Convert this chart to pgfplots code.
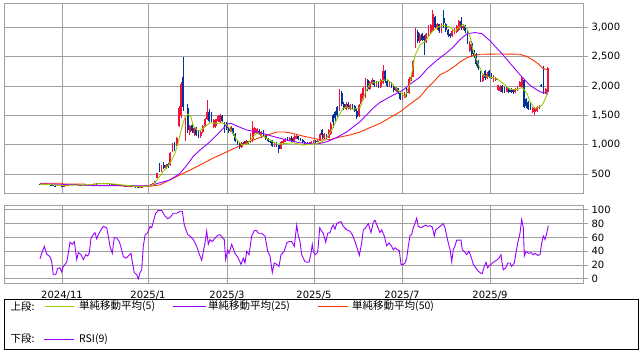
\documentclass[border=0pt]{standalone}
\usepackage{fontspec}
\setmainfont{DejaVu Sans}
\newfontfamily\jp{Noto Sans CJK JP}
\usepackage{pgfplots}
\usepackage{pgfplotstable}
\pgfplotsset{compat=1.18}
\definecolor{upcol}{RGB}{240,20,60}
\definecolor{dncol}{RGB}{0,51,153}
\definecolor{mafive}{RGB}{153,204,0}
\definecolor{matwf}{RGB}{153,0,255}
\definecolor{mafif}{RGB}{255,51,0}
\definecolor{gridc}{RGB}{160,160,160}

\pgfplotstableread{
x O H L C
42.2 322 335 318 332
44.3 332 345 328 340
57.4 298 306 295 304
63.9 297 306 295 303
66.0 303 310 300 308
68.2 308 318 306 316
70.4 316 326 314 324
74.7 320 328 318 325
79.1 310 318 308 316
85.6 309 316 308 314
89.9 312 326 311 324
92.1 324 332 322 330
94.3 330 338 328 336
98.6 333 342 332 340
100.8 340 348 338 345
113.8 318 330 316 328
126.8 293 298 291 296
129.0 296 300 292 298
139.8 262 272 258 270
142.0 270 278 266 275
144.2 275 296 274 293
146.3 293 310 291 307
148.5 307 318 304 315
150.7 315 335 312 332
152.8 332 352 328 348
157.2 430 525 425 510
161.5 560 660 540 640
165.9 605 665 585 650
170.2 650 870 640 850
172.4 880 1020 870 1000
176.7 1000 1130 980 1110
178.9 1320 1660 1300 1630
181.1 1480 2060 1460 2040
185.4 1100 1450 1070 1400
189.7 1220 1340 1160 1320
194.1 1200 1300 1150 1280
200.6 1140 1230 1120 1220
202.8 1220 1340 1200 1320
204.9 1320 1460 1300 1440
207.1 1440 1760 1420 1560
213.6 1300 1440 1280 1420
215.8 1310 1440 1290 1430
217.9 1400 1500 1380 1480
220.1 1390 1520 1370 1500
231.0 1220 1320 1210 1300
241.8 960 1050 950 1030
246.2 1000 1080 990 1060
250.5 1030 1200 1020 1180
252.7 1100 1400 1050 1280
254.8 1200 1300 1180 1280
257.0 1190 1290 1180 1270
261.3 1150 1240 1120 1220
274.4 970 1050 960 1030
280.9 930 1060 920 1040
283.0 1030 1090 1010 1070
285.2 1050 1120 1040 1100
289.6 1080 1130 1060 1110
293.9 1060 1160 1050 1130
296.1 1100 1160 1090 1150
309.1 1000 1050 995 1025
311.3 1020 1060 1010 1050
313.4 1040 1080 1030 1070
317.8 1050 1080 1040 1065
319.9 1070 1200 1060 1180
324.3 1120 1200 1090 1180
328.6 1120 1260 1110 1250
330.8 1180 1380 1170 1360
339.5 1590 1940 1580 1900
346.0 1600 1720 1590 1700
350.3 1610 1700 1590 1680
359.0 1480 1700 1470 1680
361.2 1690 1880 1680 1860
363.3 1780 1990 1760 1960
365.5 1820 2140 1800 2120
369.8 1950 2080 1930 2060
372.0 2040 2130 2020 2100
376.4 2000 2080 1980 2060
380.7 1980 2120 1970 2100
382.9 2050 2360 2040 2250
389.4 1990 2080 1980 2050
395.9 1920 1980 1900 1960
402.4 1780 1880 1760 1800
404.6 1800 1900 1790 1860
408.9 1880 2150 1870 2120
411.1 2100 2200 2090 2160
413.2 2160 2440 2150 2420
415.4 2660 2990 2640 2960
419.8 2760 2900 2740 2870
426.3 2750 2900 2730 2880
428.4 2860 3040 2840 3020
430.6 2900 3060 2880 3040
432.8 2960 3290 2940 3230
437.1 2980 3080 2960 3060
441.5 2920 3080 2900 3060
452.3 2850 2960 2830 2940
454.5 2900 2990 2880 2960
456.6 2920 3040 2910 3020
458.8 2950 3120 2940 3100
463.2 2980 3060 2960 3030
469.7 2600 2760 2580 2720
482.7 2090 2220 2070 2200
487.0 2130 2240 2120 2200
493.5 2080 2180 2060 2170
495.7 2100 2150 2080 2140
497.9 1930 2020 1910 2010
500.0 1920 2010 1900 1990
506.6 1900 1980 1890 1960
515.2 1890 1960 1880 1950
517.4 1920 2000 1910 1990
519.6 1990 2080 1980 2060
521.7 1990 2150 1980 2130
532.6 1560 1650 1540 1630
534.8 1550 1640 1500 1620
536.9 1570 1660 1560 1640
539.1 1620 1670 1610 1650
545.6 1880 1960 1860 1950
547.8 1900 2320 1840 2300
}\upT

\pgfplotstableread{
x O H L C
40.0 330 340 318 322
46.5 340 342 322 326
48.7 326 330 316 320
50.9 320 324 308 312
53.0 312 314 296 300
55.2 300 304 294 298
59.5 304 306 298 302
61.7 302 304 294 297
72.6 324 326 316 320
76.9 325 326 308 310
81.2 316 318 310 313
83.4 313 316 306 309
87.7 314 316 310 312
96.4 336 338 330 333
102.9 345 348 340 344
105.1 344 346 338 340
107.3 340 342 330 333
109.4 333 334 322 325
111.6 325 326 315 318
116.0 328 330 320 324
118.1 324 325 312 315
120.3 315 316 304 306
122.5 306 308 296 298
124.6 298 300 290 293
131.1 298 299 288 290
133.3 290 291 278 281
135.5 281 283 270 273
137.7 273 275 258 262
155.0 372 380 345 355
159.4 640 680 530 560
163.7 650 700 590 605
168.0 665 690 600 620
174.5 1010 1040 900 940
183.2 2150 2490 1580 1640
187.6 1620 1700 1200 1250
191.9 1330 1360 1200 1230
196.2 1280 1300 1140 1170
198.4 1200 1230 1120 1140
209.3 1560 1600 1380 1400
211.4 1500 1560 1380 1420
222.3 1480 1500 1380 1400
224.5 1370 1380 1200 1220
226.6 1360 1380 1250 1280
228.8 1290 1300 1200 1230
233.1 1280 1290 1150 1180
235.3 1180 1200 1040 1060
237.5 1060 1080 990 1010
239.6 1020 1040 920 960
244.0 1040 1060 990 1000
248.3 1060 1070 1010 1030
259.2 1240 1260 1160 1200
263.5 1230 1250 1130 1160
265.7 1160 1180 1080 1100
267.9 1100 1120 1040 1060
270.0 1070 1080 1020 1040
272.2 1060 1080 960 980
276.5 1030 1040 960 980
278.7 990 1000 860 920
287.4 1110 1130 1060 1090
291.7 1120 1140 1050 1070
298.2 1140 1150 1080 1100
300.4 1100 1110 1060 1080
302.6 1080 1090 1020 1040
304.7 1040 1060 1000 1020
306.9 1030 1040 990 1010
315.6 1070 1080 1030 1050
322.1 1250 1260 1100 1160
326.4 1170 1180 1090 1110
333.0 1500 1520 1290 1380
335.1 1560 1580 1400 1450
337.3 1640 1660 1470 1500
341.6 1880 1920 1660 1690
343.8 1700 1720 1590 1620
348.1 1700 1720 1600 1620
352.5 1690 1700 1600 1630
354.7 1660 1680 1560 1580
356.8 1580 1600 1440 1470
367.7 2100 2120 1920 1950
374.2 2100 2110 1980 2010
378.5 2060 2070 1970 1990
385.0 2250 2280 2050 2080
387.2 2080 2100 1980 2000
391.5 2050 2060 1970 1990
393.7 2000 2020 1900 1930
398.1 1960 1970 1870 1890
400.2 1880 1890 1760 1780
406.7 1900 1960 1820 1880
417.6 2920 2950 2740 2770
421.9 2880 2900 2760 2790
424.1 2850 2870 2530 2780
434.9 3180 3200 2980 3000
439.3 3050 3060 2900 2940
443.6 3150 3300 2980 3080
445.8 3060 3080 2920 2950
448.0 2960 2970 2840 2870
450.1 2880 2900 2820 2850
461.0 3100 3170 2960 2990
465.3 3030 3040 2900 2930
467.5 2950 2970 2720 2740
471.8 2730 2760 2500 2540
474.0 2560 2620 2480 2520
476.2 2540 2570 2340 2380
478.3 2420 2440 2280 2300
480.5 2240 2260 2060 2100
484.9 2250 2270 2110 2130
489.2 2260 2280 2130 2160
491.4 2200 2220 2120 2140
502.2 2000 2010 1880 1900
504.4 1960 1980 1880 1900
508.7 1960 1970 1880 1900
510.9 1950 1960 1880 1890
513.1 1940 1950 1870 1890
523.9 2100 2110 1620 1640
526.1 1780 1800 1620 1660
528.3 1720 1740 1590 1610
530.4 1700 1720 1590 1620
541.3 2010 2030 1980 1995
543.4 2330 2340 1860 1880
}\dnT

\pgfplotsset{
  panel/.style={
    scale only axis, anchor=south west,
    xmin=4, xmax=583,
    axis line style={gridc, line width=0.8pt},
    grid=major, grid style={gridc, line width=0.8pt},
    xtick={62,148,227,314,402,490},
    xtick style={draw=none},
    ytick pos=right, yticklabel pos=right,
    tick align=outside, major tick length=5pt,
    ytick style={gridc, line width=0.8pt},
    ticklabel style={font=\fontsize{10}{12}\selectfont},
    /pgf/number format/1000 sep={,},
    /pgf/number format/assume math mode=true,
  },
  candle/.style n args={2}{draw=none, mark=none, forget plot,
    error bars/.cd, y dir=plus, y explicit, error mark=none,
    error bar style={draw=#1, draw opacity=1, line width=#2, line cap=butt}},
}

\begin{document}
\begin{tikzpicture}[x=1pt,y=1pt]
\useasboundingbox (0,0) rectangle (643,352);
\begin{axis}[panel, at={(4pt,159pt)}, width=579pt, height=190pt,
  ymin=176, ymax=3414, ytick={500,1000,...,3000}, xticklabels={}]
  % wicks
  \addplot[candle={upcol}{0.8pt}]
    table[x=x, y=L, y error expr=\thisrow{H}-\thisrow{L}] {\upT};
  \addplot[candle={dncol}{0.8pt}]
    table[x=x, y=L, y error expr=\thisrow{H}-\thisrow{L}] {\dnT};
  % bodies
  \addplot[candle={upcol}{1.8pt}]
    table[x=x, y=O, y error expr=\thisrow{C}-\thisrow{O}] {\upT};
  \addplot[candle={dncol}{1.8pt}]
    table[x=x, y=C, y error expr=\thisrow{O}-\thisrow{C}] {\dnT};
  % SMA 50
  \addplot[mafif, line width=0.9pt, mark=none] coordinates {
    (40,342)(62,342)(63,330)(85,330)(86,307)(120,307)(121,297)(150,290)(160,315)(173,427)
    (187,540)(200,653)(213,770)(227,880)(240,980)(253,1078)(267,1163)(277,1215)(285,1215)
    (293,1190)(303,1146)(313,1110)(320,1080)(330,1085)(340,1130)(350,1165)(360,1215)
    (370,1290)(380,1362)(390,1460)(400,1560)(410,1690)(420,1815)(427,1960)(433,2060)
    (440,2190)(447,2250)(455,2340)(460,2410)(467,2480)(473,2520)(480,2540)(500,2545)
    (520,2540)(527,2500)(533,2440)(538,2380)(543,2300)(548,2270)};
  % SMA 25
  \addplot[matwf, line width=0.9pt, mark=none] coordinates {
    (40,330)(60,325)(85,310)(93,302)(150,298)(160,352)(170,398)(180,511)(187,653)
    (193,795)(200,908)(210,1049)(220,1220)(227,1350)(231,1365)(237,1316)(247,1248)
    (260,1205)(273,1140)(287,1078)(300,1032)(313,1015)(320,1021)(327,1050)(337,1124)
    (347,1220)(353,1300)(360,1390)(373,1620)(380,1720)(393,1843)(403,1928)(410,2030)
    (420,2150)(427,2290)(437,2440)(447,2570)(453,2660)(460,2790)(467,2890)(475,2910)
    (482,2890)(490,2770)(503,2530)(517,2250)(520,2190)(530,2010)(540,1900)(548,1870)};
  % SMA 5
  \addplot[mafive, line width=0.9pt, mark=none] coordinates {
    (40,322)(50,318)(60,305)(70,310)(80,314)(90,318)(100,335)(110,335)(120,318)(130,300)
    (140,280)(150,296)(153,313)(157,398)(163,540)(170,682)(175,852)(178,1021)(182,1304)
    (185,1474)(188,1520)(191,1474)(193,1333)(197,1248)(200,1236)(205,1304)(210,1372)
    (217,1362)(222,1372)(227,1333)(233,1192)(237,1078)(242,993)(247,1010)(252,1106)
    (257,1200)(263,1140)(270,1080)(277,1010)(283,1015)(293,1032)(303,993)(313,1010)
    (317,1021)(322,1050)(327,1120)(333,1290)(338,1474)(343,1617)(347,1644)(353,1600)
    (360,1630)(365,1872)(370,2043)(378,2071)(387,2110)(392,2043)(398,1928)(405,1815)
    (410,2050)(415,2520)(420,2700)(425,2760)(432,2920)(437,3000)(443,3034)(450,3005)
    (455,2930)(460,3010)(463,3050)(467,2977)(470,2837)(473,2610)(478,2384)(483,2180)
    (490,2150)(497,2127)(503,2043)(510,1940)(517,1940)(522,1974)(527,1872)(530,1730)
    (535,1617)(540,1644)(543,1700)(545,1770)(548,1900)};
\end{axis}

\begin{axis}[panel, at={(4pt,69pt)}, width=579pt, height=78pt,
  ymin=-6, ymax=107, ytick={0,20,...,100},
  xticklabels={2024/11,2025/1,2025/3,2025/5,2025/7,2025/9}]
  \addplot[matwf, line width=0.9pt, mark=none] coordinates {
    (40,29)(41.7,37)(44.3,47)(46.7,36)(50,32)(51.7,25)(53.3,6)(55.7,6)(57.7,15)(60,16)
    (61.7,10)(63.3,18)(66.7,24)(68.3,37)(70,53)(72.3,50)(74.3,54)(75,47)(76.7,28)(78.3,38)
    (81,35)(83.3,28)(85.7,35)(87.7,33)(89.3,38)(91,59)(93.3,64)(95,67)(96.7,58)(98.3,64)
    (101,71)(103.3,76)(106.7,74)(108.3,62)(110,47)(112.3,37)(114.3,60)(116.7,59)(119.3,54)
    (121.7,42)(123.3,32)(126,30)(128.3,33)(131,37)(132.3,25)(134.3,9)(136.7,6)(138.3,0)
    (140,9)(141.7,13)(143.3,47)(145,63)(147.7,67)(150,76)(151.7,74)(153.3,83)(155.7,95)
    (158.3,99)(161.7,99)(165,91)(167.7,87)(170,89)(173.3,95)(176.7,95)(180,98)(182.3,98)
    (184.3,78)(187.7,64)(190,62)(193.3,57)(196.7,47)(199,37)(201.7,27)(205,52)(206.7,69)
    (208.3,50)(210,57)(212.3,54)(215,59)(217.7,63)(220,64)(222.3,60)(224.3,57)(225.7,28)
    (227.7,42)(229,37)(231.7,50)(235,37)(238.3,30)(241,21)(243.3,30)(245,23)(246.7,40)
    (249,35)(251.7,62)(254.3,70)(256.7,70)(258.3,66)(261.7,66)(265,62)(267.7,40)(270,33)
    (272.3,9)(274.3,23)(276.7,21)(279,18)(281,35)(284.3,40)(286.7,52)(289,54)(291.7,54)
    (294.3,47)(296.7,78)(298.3,62)(300,54)(301.7,35)(303.3,30)(305,25)(307.7,24)(309,24)
    (311,37)(312.3,50)(313.3,40)(315,35)(317.7,38)(319.7,74)(321.7,69)(323.3,66)(325.7,53)
    (327.7,66)(330,67)(331.7,74)(333.3,78)(335,72)(336.7,80)(339,82)(341,83)(343.3,76)
    (346.7,71)(350,69)(352.3,64)(355,54)(357.7,42)(359.3,34)(361.7,52)(363.3,71)(365.7,74)
    (368.3,80)(371,67)(373.3,82)(375,85)(377.7,75)(380,67)(381.7,71)(384.3,62)(386.7,48)
    (389,52)(391.7,47)(393.3,42)(395,45)(397.7,42)(399.3,41)(401,21)(403.3,21)(405,23)
    (406.7,30)(408.3,47)(410,63)(411.7,64)(413.3,74)(415,80)(416.7,88)(418.3,76)(421,74)
    (423.3,76)(425.7,78)(427.7,76)(430,77)(432.3,75)(434.3,62)(435.7,71)(438.3,74)
    (441.7,78)(443.3,80)(445,74)(446.7,62)(449,48)(450.3,41)(451.7,25)(453.3,42)(455,48)
    (456.7,56)(459,56)(461,56)(462.3,42)(464.3,40)(466.7,35)(469,40)(471.7,29)(473.3,21)
    (475.7,16)(478.3,11)(481,8)(482.3,8)(484.3,18)(486,24)(487.7,16)(489,19)(491,21)
    (493.3,24)(496.7,27)(499,30)(501,35)(502.3,21)(503.3,13)(505.7,16)(507.7,23)(510,23)
    (511.7,18)(514.3,23)(515.7,35)(517.7,52)(520,66)(521.7,86)(523.3,74)(524.3,33)(526,40)
    (528.3,37)(531,38)(533.3,35)(535,37)(537.7,34)(540,35)(541.7,52)(543.3,62)(545,57)
    (546.7,66)(548.3,77)};
\end{axis}

% legend box
\draw[black, line width=0.8pt] (4,3) rectangle (638,53);
\begin{scope}[every node/.style={anchor=west, inner sep=0pt, font=\jp\fontsize{10.5}{12}\selectfont}]
  \node at (10.5,45.5) {上段:};
  \draw[mafive, line width=0.9pt] (45,45.5) -- (74,45.5);
  \node at (79,45.5) {単純移動平均(5)};
  \draw[matwf, line width=0.9pt] (173,45.5) -- (206,45.5);
  \node at (208,45.5) {単純移動平均(25)};
  \draw[mafif, line width=0.9pt] (318,45.5) -- (348,45.5);
  \node at (352,45.5) {単純移動平均(50)};
  \node at (10.5,13) {下段:};
  \draw[matwf, line width=0.9pt] (44,13) -- (74,13);
  \node at (79,13) {RSI(9)};
\end{scope}
\end{tikzpicture}
\end{document}
